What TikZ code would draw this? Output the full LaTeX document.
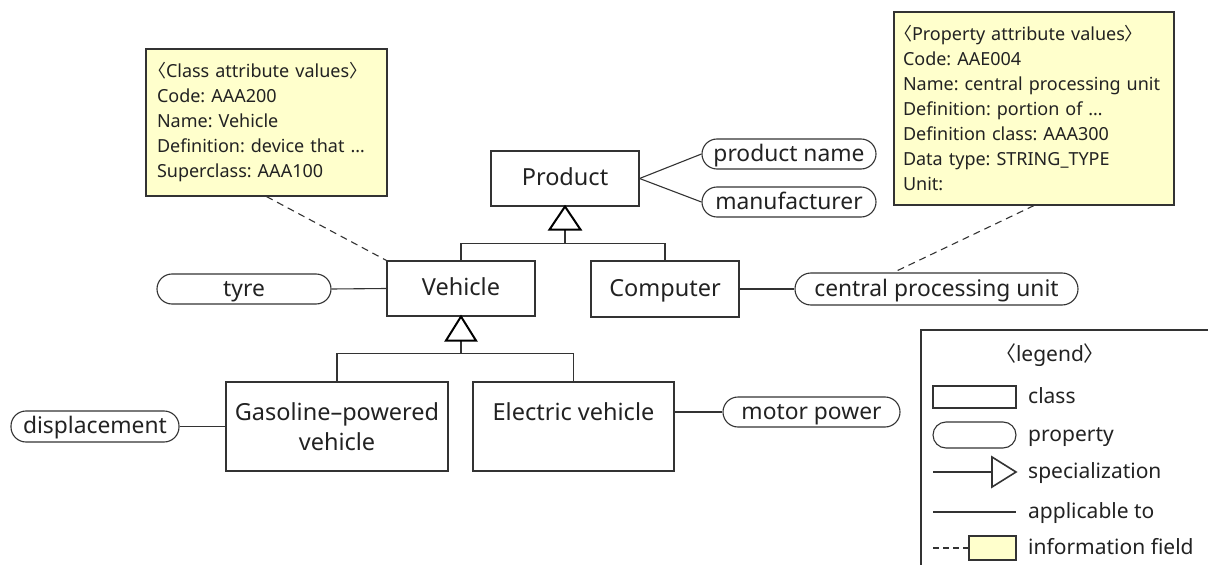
\documentclass[tikz,border=0pt]{standalone}
\usepackage{fontspec}
\setmainfont{Noto Sans}
\newfontfamily\cjk{Noto Sans CJK JP}
\usetikzlibrary{calc}
\frenchspacing
\definecolor{ink}{HTML}{222222}
\definecolor{edge}{HTML}{333333}
\definecolor{note}{HTML}{FFFFCC}
\newcommand{\lbr}{\kern-0.5em{\cjk 〈}}
\newcommand{\rbr}{{\cjk 〉}\kern-0.5em}
\tikzset{
  x=1pt, y=-1pt,
  every node/.style={text=ink},
  line/.style={draw=edge, line width=1.1pt},
  oneline/.style={text height=16pt, text depth=2pt},
  classbox/.style={line, rectangle, inner sep=0pt, align=center, font=\fontsize{23.5}{30}\selectfont},
  propbox/.style={line, rectangle, rounded corners=15pt, inner sep=0pt, oneline, font=\fontsize{22.8}{30}\selectfont},
  notebox/.style={draw=edge, line width=1.1pt, fill=note, inner xsep=11pt, inner ysep=0pt,
    align=left, font=\fontsize{18}{25}\selectfont},
  gen/.style={draw=black, line width=2pt, line join=miter},
  infolink/.style={draw=edge, line width=1.1pt, dash pattern=on 7pt off 5pt},
  legendtext/.style={anchor=west, inner sep=0pt, text height=15pt, text depth=2pt, font=\fontsize{21}{30}\selectfont}
}
\begin{document}
\begin{tikzpicture}
\useasboundingbox (0,0) rectangle (1208,567);

% classes
\node[classbox, oneline, minimum width=148pt, minimum height=55pt] (product) at (565,178.5) {Product};
\node[classbox, oneline, minimum width=148pt, minimum height=55pt] (vehicle) at (461,288.5) {Vehicle};
\node[classbox, oneline, minimum width=148pt, minimum height=56pt] (computer) at (665,289) {Computer};
\node[classbox, minimum width=222pt, minimum height=89pt] (gasoline) at (337,426.5) {Gasoline–powered\\vehicle};
\node[classbox, minimum width=201pt, minimum height=89pt] (electric) at (573.5,426.5) {Electric vehicle\\\phantom{vehicle}};

% properties
\node[propbox, minimum width=174pt, minimum height=30pt] (pname) at (789,154) {product name};
\node[propbox, minimum width=174pt, minimum height=30pt] (maker) at (789,202) {manufacturer};
\node[propbox, minimum width=174pt, minimum height=30pt] (tyre) at (244,289) {tyre};
\node[propbox, minimum width=283pt, minimum height=32pt, rounded corners=16pt] (cpu) at (936.5,289) {central processing unit};
\node[propbox, minimum width=168pt, minimum height=31pt] (displ) at (95,426.5) {displacement};
\node[propbox, minimum width=177pt, minimum height=30pt] (motor) at (811.5,412) {motor power};

% information fields
\node[notebox, minimum width=241pt, minimum height=147pt, text width=219pt] (classinfo) at (266.5,122.5)
  {\lbr Class attribute values\rbr\\
   Code: AAA200\\
   Name: Vehicle\\
   Definition: device that …\\
   Superclass: AAA100};
\node[notebox, inner xsep=9pt, minimum width=280pt, minimum height=193pt, text width=262pt] (propinfo) at (1034,108.5)
  {\lbr Property attribute values\rbr\\
   Code: AAE004\\
   \mbox{Name: central processing unit}\\
   Definition: portion of …\\
   Definition class: AAA300\\
   Data type: STRING\_TYPE\\
   Unit:};

% applicable-to links
\draw[line] (product.east) -- (pname.west);
\draw[line] (product.east) -- (maker.west);
\draw[line] (tyre.east) -- (vehicle.west);
\draw[line] (computer.east) -- (cpu.west);
\draw[line] (displ.east) -- (gasoline.west |- displ.east);
\draw[line] (motor.west) -- (electric.east |- motor.west);

% information links
\draw[infolink] (classinfo.south) -- (vehicle.north west);
\draw[infolink] (propinfo.south) -- ($(cpu.north)+(-43,0)$);

% specialization: Product
\coordinate (pbase) at ($(product.south)+(0,23)$);
\coordinate (pjoin) at ($(product.south)+(0,37)$);
\draw[line] (pbase) -- (pjoin);
\draw[line] (vehicle.north) |- (pjoin) -| (computer.north);
\draw[gen] (product.south) -- ($(pbase)+(-15.5,0)$) -- ($(pbase)+(15.5,0)$) -- cycle;

% specialization: Vehicle
\coordinate (vbase) at ($(vehicle.south)+(0,24)$);
\coordinate (vjoin) at ($(vehicle.south)+(0,37)$);
\draw[line] (vbase) -- (vjoin);
\draw[line] (gasoline.north) |- (vjoin) -| (electric.north);
\draw[gen] (vehicle.south) -- ($(vbase)+(-15,0)$) -- ($(vbase)+(15,0)$) -- cycle;

% legend
\coordinate (lgtl) at (921,330);
\coordinate (lgtr) at (1208,330);
\coordinate (lgbl) at (921,565);
\draw[line] (lgtr) -- (lgtl) -- (lgbl);
\node[inner sep=0pt, text height=15pt, text depth=2pt, font=\fontsize{21}{30}\selectfont] (lgtitle) at (1050,355) {\lbr legend\rbr};

\node[line, rectangle, minimum width=83pt, minimum height=22pt, inner sep=0pt] (lgclass) at (974.5,397) {};
\node[legendtext] (lgclasst) at (1028,397) {class};

\node[line, rectangle, minimum width=83pt, minimum height=26pt, inner sep=0pt, rounded corners=13pt] (lgprop) at (974.5,435) {};
\node[legendtext] (lgpropt) at (1028,435) {property};

\coordinate (lgsa) at (933,472);
\coordinate (lgsb) at (992,472);
\coordinate (lgsc) at (1016,472);
\draw[line] (lgsa) -- (lgsb);
\draw[line, line width=1.6pt, line join=miter] ($(lgsb)+(0,-15)$) -- (lgsc) -- ($(lgsb)+(0,15)$) -- cycle;
\node[legendtext] (lgspect) at (1028,472) {specialization};

\coordinate (lgaa) at (933,512);
\coordinate (lgab) at (1016,512);
\draw[line] (lgaa) -- (lgab);
\node[legendtext] (lgappt) at (1028,512) {applicable to};

\node[draw=edge, line width=1.1pt, fill=note, minimum width=47pt, minimum height=24pt, inner sep=0pt] (lgnote) at (992.5,548) {};
\coordinate (lgia) at (933,548);
\draw[infolink, dash pattern=on 6pt off 4pt] (lgia) -- (lgnote.west);
\node[legendtext] (lgnotet) at (1028,548) {information field};
\end{tikzpicture}
\end{document}
